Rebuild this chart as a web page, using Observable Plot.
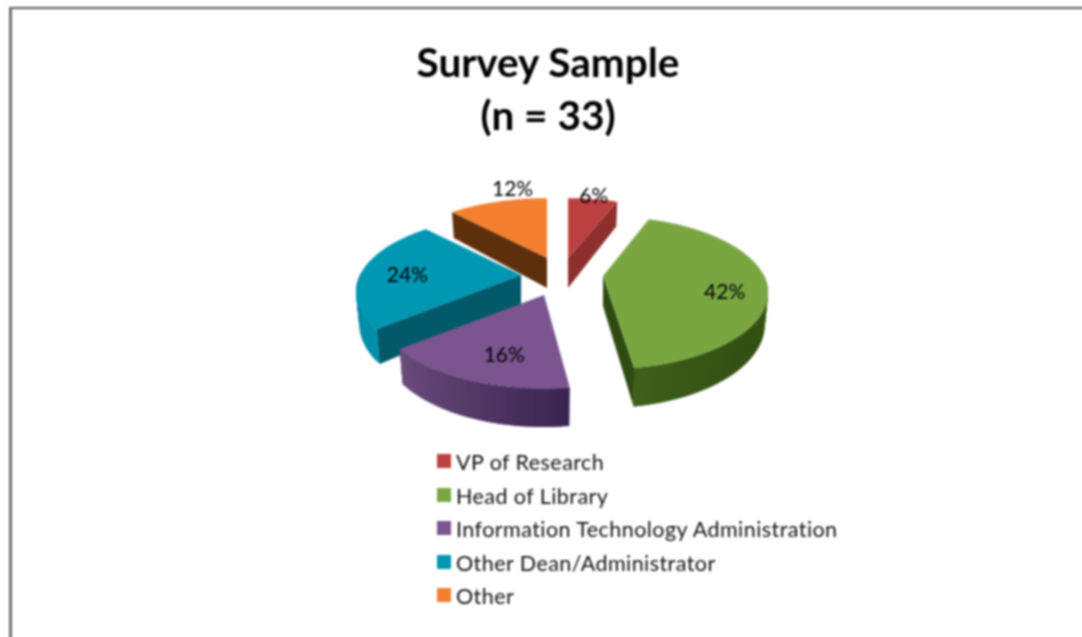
<!DOCTYPE html>
<html>
<head>
<meta charset="utf-8">
<script src="https://cdn.jsdelivr.net/npm/d3@7"></script>
<script src="https://cdn.jsdelivr.net/npm/@observablehq/plot@0.6"></script>
<style>
  html, body { margin: 0; padding: 0; background: #fff; }
  body { width: 1082px; height: 637px; overflow: hidden; position: relative; font-family: Lato, sans-serif; color: #111; }
  #frame { position: absolute; left: 9px; top: 7px; right: -4px; bottom: -4px; border-left: 3px solid #707070; border-top: 2px solid #5c5c5c; box-sizing: border-box; }
  #content { position: absolute; inset: 0; filter: blur(0.8px); }
  #title { position: absolute; left: 248px; width: 600px; top: 35px; text-align: center; font-weight: 700; font-size: 40.5px; line-height: 53px; color: #000; }
  #chart { position: absolute; left: 0; top: 170px; }
  #chart svg { display: block; }
  #legend { position: absolute; left: 437px; top: 446px; font-size: 21.5px; letter-spacing: 0.44px; color: #111; }
  .row { height: 33.6px; line-height: 33.6px; white-space: nowrap; position: relative; padding-left: 19px; }
  .row i { position: absolute; left: 0; top: 8px; width: 14px; height: 14px; }
</style>
</head>
<body>
<div id="content">
  <div id="frame"></div>
  <div id="title"></div>
  <div id="chart"></div>
  <div id="legend"></div>
</div>
<script>
// Data
const categories = ["VP of Research", "Head of Library", "Information Technology Administration", "Other Dean/Administrator", "Other"];
const percents = [6, 42, 16, 24, 12];
const titleLines = ["Survey Sample", "(n = 33)"];

// Colours
const faceColors = ["#bb4140", "#7aa642", "#7b5490", "#0097b3", "#f28030"];
const edgeColors = ["#8c2f2d", "#2f4a11", null, "#005a6c", "#5e2f0c"];
const rimShades = [
  ["#8c2f2d"],
  ["#3f5f1a", "#2e4a10", "#3d5c18"],
  ["#6a4b7c", "#553a68", "#3a2450"],
  ["#0090ab", "#0084a0"],
  ["#5e2f0c"]
];

// Projection and explosion of the tilted disc (layout, in SVG pixels)
const radiusX = 161, radiusY = 73, perspective = 0.22, thickness = 30, bottomShrink = 0.98;
const originX = [568, 603, 544, 521, 547];
const originY = [88, 106, 125, 105, 88];
const turn = [0, -1.5, 0, 0, 0];
const labelPullX = [1.02, 0.74, 0.54, 0.72, 0.71];
const labelPullY = [1.05, 2.1, 0.70, 0.1, 1.22];
const drawOrder = [4, 0, 3, 2, 1];

const toRad = Math.PI / 180;
const scaleAt = t => 1 / (1 + perspective * Math.cos(t * toRad));
const topPoint = (i, t) => {
  const s = scaleAt(t);
  return [originX[i] + radiusX * Math.sin(t * toRad) * s, originY[i] - radiusY * Math.cos(t * toRad) * s];
};
const bottomPoint = (i, t, atApex) => {
  const s = atApex ? 1 : scaleAt(t);
  const [x, y] = atApex ? [originX[i], originY[i]] : topPoint(i, t);
  return [originX[i] + (x - originX[i]) * bottomShrink, y + thickness * s];
};

// Angular extent of every slice comes from the percentages
const cum = d3.cumsum(percents);
const starts = percents.map((p, i) => (cum[i] - p) * 3.6 + turn[i]);
const ends = percents.map((p, i) => cum[i] * 3.6 + turn[i]);

const bands = [];
let id = 0;
for (const i of drawOrder) {
  const a = starts[i], b = ends[i];
  // curved outer wall, shaded by small steps that overlap their neighbour
  const wa = Math.max(a, 88), wb = Math.min(b, 272);
  if (wb > wa) {
    const shade = rimShades[i].length > 1 ? d3.interpolateRgbBasis(rimShades[i]) : () => rimShades[i][0];
    const n = Math.ceil((wb - wa) / 2);
    for (let k = 0; k < n; k++) {
      const t0 = wa + (wb - wa) * k / n, t1 = Math.min(wb, wa + (wb - wa) * (k + 2) / n);
      const u = k / Math.max(1, n - 1);
      const col = d3.rgb(shade(i === 1 || i === 2 ? 1 - u : u)).formatHex();
      const key = id++;
      for (const t of [t0, t1]) {
        const p = topPoint(i, t), q = bottomPoint(i, t, false);
        bands.push({id: key, x1: p[0], y1: p[1], x2: q[0], y2: q[1], fill: col});
      }
    }
  }
  // flat cut face that shows towards the viewer
  if (edgeColors[i]) {
    const t = i === 0 || i === 1 ? b : a;
    const key = id++;
    const p = topPoint(i, t), q = bottomPoint(i, t, false);
    const o = [originX[i], originY[i]], r = bottomPoint(i, t, true);
    bands.push({id: key, x1: o[0], y1: o[1], x2: r[0], y2: r[1], fill: edgeColors[i]});
    bands.push({id: key, x1: p[0], y1: p[1], x2: q[0], y2: q[1], fill: edgeColors[i]});
  }
  // top face: a fan from the apex to the rim
  const key = id++;
  const n = Math.ceil((b - a) / 1.5);
  for (let k = 0; k <= n; k++) {
    const p = topPoint(i, a + (b - a) * k / n);
    bands.push({id: key, x1: originX[i], y1: originY[i], x2: p[0], y2: p[1], fill: faceColors[i]});
  }
}

const labels = percents.map((p, i) => {
  const mid = (starts[i] + ends[i]) / 2;
  const [x, y] = topPoint(i, mid);
  return {
    text: p + "%",
    x: originX[i] + (x - originX[i]) * labelPullX[i],
    y: originY[i] + (y - originY[i]) * labelPullY[i]
  };
});

const chart = Plot.plot({
  width: 1082, height: 270,
  margin: 0,
  x: {domain: [0, 1082], range: [0, 1082], axis: null},
  y: {domain: [0, 270], range: [0, 270], axis: null},
  color: {type: "identity"},
  style: {background: "transparent"},
  marks: [
    Plot.area(bands, {x1: "x1", y1: "y1", x2: "x2", y2: "y2", z: "id", fill: "fill", curve: "linear"}),
    Plot.text(labels, {x: "x", y: "y", text: "text", fontSize: 21, fontFamily: "Lato, sans-serif", fill: "#000"})
  ]
});
document.getElementById("chart").append(chart);

document.getElementById("title").innerHTML = titleLines.join("<br>");
const legend = document.getElementById("legend");
categories.forEach((c, i) => {
  const row = document.createElement("div");
  row.className = "row";
  const sw = document.createElement("i");
  sw.style.background = faceColors[i];
  row.append(sw, document.createTextNode(c));
  legend.append(row);
});
</script>
</body>
</html>
